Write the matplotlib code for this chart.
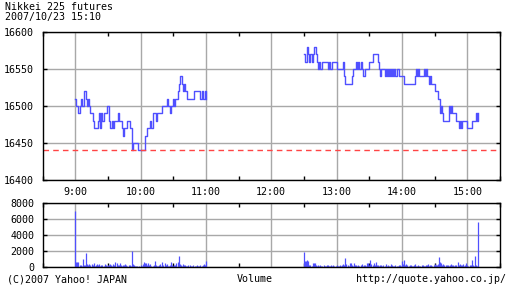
import numpy as np
import matplotlib
matplotlib.use("Agg")
import matplotlib.pyplot as plt

# ---- data ----
title_lines = ["Nikkei 225 futures", "2007/10/23 15:10"]
hour_labels = ["9:00", "10:00", "11:00", "12:00", "13:00", "14:00", "15:00"]
prev_close = 16440

# price per minute, morning session from 9:00 (minutes 0..120)
am_start = 0
am_price = [16510, 16500, 16500, 16490, 16500, 16510, 16500, 16500, 16520, 16520,
            16510, 16500, 16510, 16500, 16490, 16490, 16480, 16470, 16470, 16470,
            16470, 16480, 16490, 16470, 16490, 16480, 16490, 16490, 16490, 16500,
            16500, 16480, 16470, 16470, 16480, 16470, 16480, 16480, 16480, 16490,
            16480, 16480, 16480, 16470, 16460, 16470, 16470, 16470, 16480, 16480,
            16470, 16470, 16440, 16450, 16450, 16450, 16450, 16450, 16440, 16440,
            16440, 16440, 16440, 16440, 16460, 16460, 16470, 16470, 16470, 16480,
            16470, 16490, 16490, 16490, 16480, 16490, 16490, 16490, 16490, 16490,
            16500, 16500, 16500, 16500, 16510, 16500, 16500, 16490, 16500, 16500,
            16510, 16500, 16510, 16510, 16520, 16530, 16540, 16540, 16530, 16520,
            16530, 16520, 16520, 16510, 16510, 16510, 16510, 16510, 16510, 16520,
            16520, 16520, 16520, 16520, 16520, 16510, 16520, 16510, 16510, 16520,
            16510]
# afternoon session from 12:30 (minutes 210..370 after 9:00)
pm_start = 210
pm_price = [16570, 16560, 16560, 16580, 16570, 16560, 16570, 16560, 16570, 16580,
            16580, 16570, 16560, 16550, 16560, 16550, 16550, 16560, 16560, 16560,
            16560, 16560, 16550, 16560, 16550, 16550, 16560, 16560, 16560, 16560,
            16550, 16550, 16550, 16550, 16550, 16550, 16560, 16540, 16530, 16530,
            16530, 16530, 16530, 16530, 16540, 16550, 16550, 16550, 16560, 16550,
            16560, 16550, 16560, 16550, 16540, 16540, 16550, 16550, 16550, 16550,
            16560, 16560, 16560, 16570, 16570, 16570, 16570, 16570, 16560, 16550,
            16540, 16550, 16550, 16550, 16540, 16550, 16540, 16550, 16540, 16550,
            16540, 16550, 16540, 16550, 16540, 16550, 16550, 16540, 16540, 16540,
            16540, 16540, 16530, 16530, 16530, 16530, 16530, 16530, 16530, 16530,
            16530, 16530, 16540, 16550, 16540, 16550, 16540, 16540, 16540, 16540,
            16550, 16540, 16550, 16540, 16540, 16530, 16540, 16530, 16530, 16530,
            16520, 16520, 16520, 16510, 16510, 16490, 16500, 16490, 16480, 16480,
            16480, 16480, 16480, 16500, 16490, 16500, 16490, 16490, 16490, 16490,
            16480, 16480, 16470, 16480, 16470, 16480, 16480, 16480, 16480, 16480,
            16470, 16470, 16470, 16470, 16480, 16480, 16480, 16480, 16490, 16480,
            16490]

am_volume = [7000, 650, 620, 640, 200, 300, 150, 980, 250, 300,
             1750, 350, 200, 400, 300, 350, 250, 450, 150, 300,
             400, 200, 350, 150, 300, 250, 100, 350, 200, 150,
             300, 250, 400, 200, 150, 350, 300, 600, 550, 300,
             200, 450, 250, 150, 300, 200, 400, 250, 150, 300,
             200, 100, 2000, 350, 200, 150, 100, 150, 50, 100,
             200, 150, 400, 600, 450, 550, 300, 500, 200, 350,
             150, 100, 300, 700, 250, 150, 100, 200, 400, 150,
             650, 300, 500, 250, 400, 150, 100, 200, 600, 250,
             150, 300, 200, 450, 650, 1400, 350, 250, 150, 400,
             200, 300, 150, 100, 250, 200, 150, 100, 300, 50,
             150, 100, 200, 100, 150, 250, 100, 300, 400, 250,
             750]
pm_volume = [1900, 700, 800, 900, 750, 300, 200, 150, 450, 500,
             450, 200, 150, 250, 100, 200, 150, 100, 250, 150,
             100, 200, 300, 100, 150, 200, 100, 300, 150, 100,
             200, 150, 100, 250, 150, 300, 400, 200, 1100, 350,
             250, 150, 500, 450, 200, 150, 500, 300, 200, 150,
             300, 100, 200, 350, 150, 250, 300, 150, 450, 500,
             200, 850, 350, 300, 450, 250, 600, 300, 200, 150,
             300, 250, 100, 200, 150, 350, 100, 200, 100, 150,
             400, 200, 150, 100, 200, 150, 100, 200, 300, 150,
             700, 350, 850, 300, 400, 200, 150, 300, 250, 100,
             150, 200, 350, 150, 100, 250, 150, 100, 300, 200,
             150, 100, 250, 200, 400, 150, 300, 200, 150, 250,
             400, 300, 200, 350, 1250, 600, 500, 300, 400, 250,
             200, 300, 250, 150, 300, 400, 200, 250, 150, 200,
             300, 650, 300, 400, 250, 200, 350, 150, 300, 500,
             200, 150, 300, 200, 850, 300, 150, 1400, 200, 100,
             5600]

# ---- figure ----
W, H = 512, 288
fig = plt.figure(figsize=(W / 100, H / 100), dpi=100)
plt.rcParams['font.family'] = ['DejaVu Sans Mono']
fs = 7.2

def ax_rect(l, t, r, b):
    return [l / W, (H - b) / H, (r - l) / W, (b - t) / H]

ax = fig.add_axes(ax_rect(42.5, 32, 500, 180))
axv = fig.add_axes(ax_rect(42.5, 203, 500, 267))

grid_c = '#a8a8a8'
line_c = '#5050ff'
hours = np.arange(0, 361, 60)
halfs = np.arange(-30, 391, 60)

for a in (ax, axv):
    a.set_xlim(-30, 390)
    a.set_xticks(hours)
    a.set_xticks(halfs, minor=True)
    a.grid(True, which='major', color=grid_c, lw=1.0)
    a.set_axisbelow(True)
    for s in a.spines.values():
        s.set_linewidth(1.0)
        s.set_color('black')
    a.tick_params(axis='both', which='both', direction='in', length=3,
                  width=1.0, color='black', top=True, right=True,
                  labelsize=fs, pad=6)
    a.tick_params(axis='x', which='major', length=0)

# price
am_x = np.arange(len(am_price)) + am_start
pm_x = np.arange(len(pm_price)) + pm_start
ax.plot(am_x, am_price, drawstyle='steps-post', color=line_c, lw=1.0)
ax.plot(pm_x, pm_price, drawstyle='steps-post', color=line_c, lw=1.0)
ax.axhline(prev_close, color='#ff4444', lw=1.0, dashes=(4, 3))
ax.set_ylim(16400, 16600)
ax.set_yticks([16400, 16450, 16500, 16550, 16600])
ax.set_xticklabels(hour_labels)
ax.tick_params(axis='x', pad=5)

# volume
axv.vlines(np.arange(len(am_volume)) + am_start, 0, am_volume, color=line_c, lw=0.9)
axv.vlines(np.arange(len(pm_volume)) + pm_start, 0, pm_volume, color=line_c, lw=0.9)
axv.set_ylim(0, 8000)
axv.set_yticks([0, 2000, 4000, 6000, 8000])
axv.set_xticklabels([])

# texts
fig.text(5 / W, 1 - 2 / H, title_lines[0] + "\n" + title_lines[1], ha='left', va='top',
         fontsize=fs, linespacing=1.0)
fig.text(7 / W, 1 - 279 / H, "(C)2007 Yahoo! JAPAN", ha='left', va='center', fontsize=fs)
fig.text(255 / W, 1 - 279 / H, "Volume", ha='center', va='center', fontsize=fs)
fig.text(506 / W, 1 - 279 / H, "http://quote.yahoo.co.jp/", ha='right', va='center', fontsize=fs)

fig.savefig('out.png', dpi=100)
